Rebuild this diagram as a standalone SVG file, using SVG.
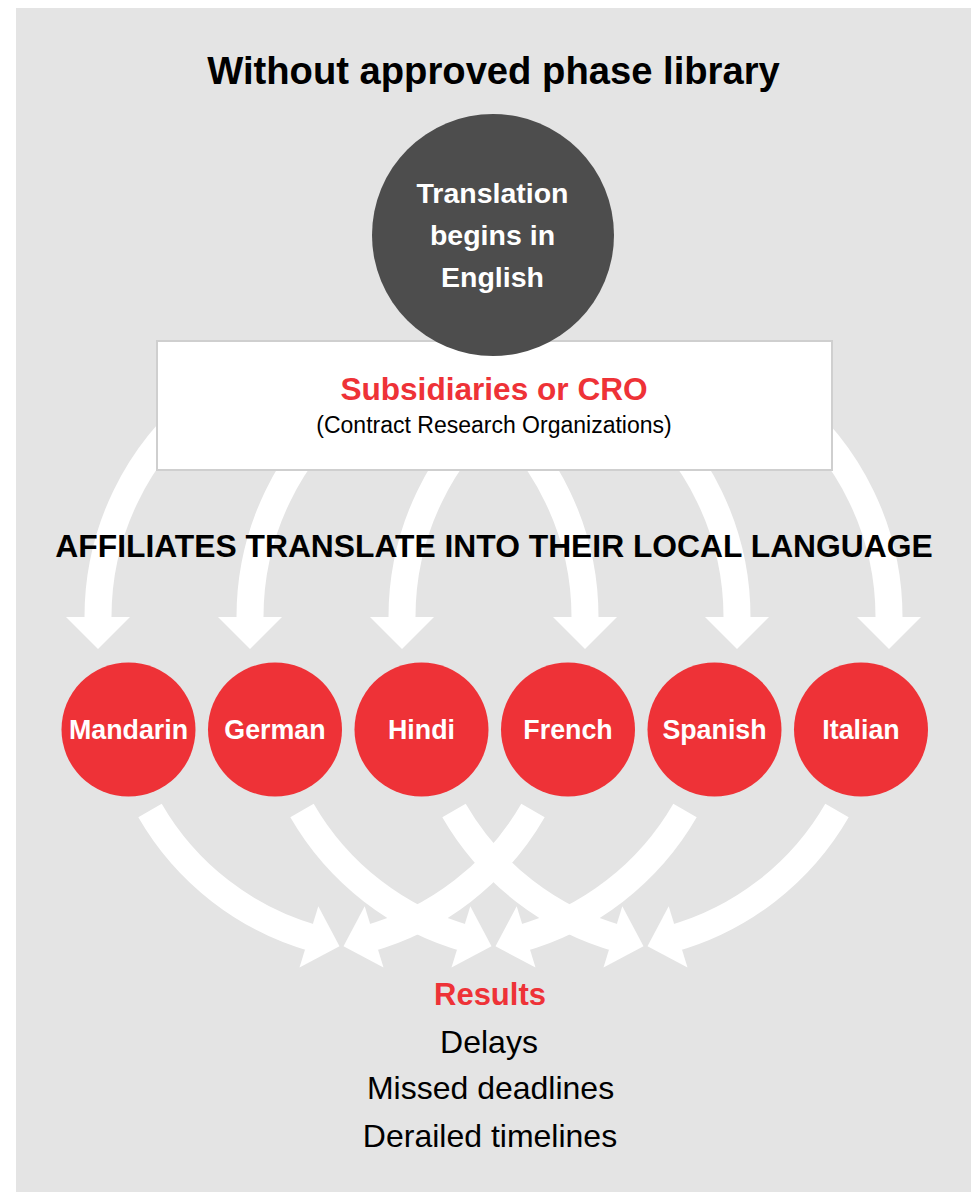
<svg xmlns="http://www.w3.org/2000/svg" width="975" height="1192" viewBox="0 0 975 1192">
  <style>
    .bg { fill: #e4e4e4; }
    .shaft { fill: none; stroke: #ffffff; stroke-width: 27; }
    .head { fill: #ffffff; }
    .sans { font-family: "Liberation Sans", Arial, Helvetica, sans-serif; text-anchor: middle; }
    .b { font-weight: bold; }
    .white { fill: #ffffff; }
    .red { fill: #ee3237; }
    .black { fill: #000000; }
    .lang { fill: #ee3237; }
    .langtxt { font-size: 26.8px; }
  </style>
  <rect class="bg" x="16" y="8" width="955" height="1184"/>

  <g id="connectors">
    <!-- top arrows: from box to languages -->
    <path class="shaft" d="M202.8,400 A277,277 0 0 0 98,617 L98,622"/>
    <polygon class="head" points="66,617 130,617 98,649"/>
    <path class="shaft" d="M354.8,400 A277,277 0 0 0 250,617 L250,622"/>
    <polygon class="head" points="218,617 282,617 250,649"/>
    <path class="shaft" d="M506.8,400 A277,277 0 0 0 402,617 L402,622"/>
    <polygon class="head" points="370,617 434,617 402,649"/>
    <path class="shaft" d="M480.2,400 A277,277 0 0 1 585,617 L585,622"/>
    <polygon class="head" points="553,617 617,617 585,649"/>
    <path class="shaft" d="M632.2,400 A277,277 0 0 1 737,617 L737,622"/>
    <polygon class="head" points="705,617 769,617 737,649"/>
    <path class="shaft" d="M784.2,400 A277,277 0 0 1 889,617 L889,622"/>
    <polygon class="head" points="857,617 921,617 889,649"/>

    <!-- bottom arrows: languages to results -->
    <path class="shaft" d="M150,810.5 A277,277 0 0 0 315.9,938.9"/>
    <polygon class="head" points="299.5,967.5 318.3,906.3 339.5,946.3"/>
    <path class="shaft" d="M302,810.5 A277,277 0 0 0 467.9,938.9"/>
    <polygon class="head" points="451.5,967.5 470.3,906.3 491.5,946.3"/>
    <path class="shaft" d="M454,810.5 A277,277 0 0 0 619.9,938.9"/>
    <polygon class="head" points="603.5,967.5 622.3,906.3 643.5,946.3"/>
    <path class="shaft" d="M533,810.5 A277,277 0 0 1 367.1,938.9"/>
    <polygon class="head" points="383.5,967.5 364.7,906.3 343.5,946.3"/>
    <path class="shaft" d="M685,810.5 A277,277 0 0 1 519.1,938.9"/>
    <polygon class="head" points="535.5,967.5 516.7,906.3 495.5,946.3"/>
    <path class="shaft" d="M837,810.5 A277,277 0 0 1 671.1,938.9"/>
    <polygon class="head" points="687.5,967.5 668.7,906.3 647.5,946.3"/>
  </g>

  <g id="title">
    <text class="sans b black" x="493.5" y="84" font-size="38.2">Without approved phase library</text>
  </g>

  <g id="subsidiaries">
    <rect x="157" y="341" width="675" height="129" fill="#ffffff" stroke="#cfcfcf" stroke-width="2"/>
    <text class="sans b red" x="494" y="400" font-size="31.6">Subsidiaries or CRO</text>
    <text class="sans black" x="494" y="433" font-size="23">(Contract Research Organizations)</text>
  </g>

  <g id="english">
    <circle cx="493" cy="235" r="121" fill="#4d4d4d"/>
    <text class="sans b white" x="492.5" y="203" font-size="28.5">Translation</text>
    <text class="sans b white" x="492.5" y="245" font-size="28.5">begins in</text>
    <text class="sans b white" x="492.5" y="287" font-size="28.5">English</text>
  </g>

  <g id="affiliates">
    <text class="sans b black" x="494" y="557" font-size="31.8">AFFILIATES TRANSLATE INTO THEIR LOCAL LANGUAGE</text>
  </g>

  <g id="mandarin">
    <circle class="lang" cx="128.5" cy="729.5" r="67"/>
    <text class="sans b white langtxt" x="128.5" y="738.5">Mandarin</text>
  </g>
  <g id="german">
    <circle class="lang" cx="275" cy="729.5" r="67"/>
    <text class="sans b white langtxt" x="275" y="738.5">German</text>
  </g>
  <g id="hindi">
    <circle class="lang" cx="421.5" cy="729.5" r="67"/>
    <text class="sans b white langtxt" x="421.5" y="738.5">Hindi</text>
  </g>
  <g id="french">
    <circle class="lang" cx="568" cy="729.5" r="67"/>
    <text class="sans b white langtxt" x="568" y="738.5">French</text>
  </g>
  <g id="spanish">
    <circle class="lang" cx="714.5" cy="729.5" r="67"/>
    <text class="sans b white langtxt" x="714.5" y="738.5">Spanish</text>
  </g>
  <g id="italian">
    <circle class="lang" cx="861" cy="729.5" r="67"/>
    <text class="sans b white langtxt" x="861" y="738.5">Italian</text>
  </g>

  <g id="results">
    <text class="sans b red" x="490" y="1005" font-size="31">Results</text>
    <text class="sans black" x="489" y="1052.7" font-size="32">Delays</text>
    <text class="sans black" x="490.5" y="1099.3" font-size="32">Missed deadlines</text>
    <text class="sans black" x="490" y="1146.7" font-size="32">Derailed timelines</text>
  </g>
</svg>
